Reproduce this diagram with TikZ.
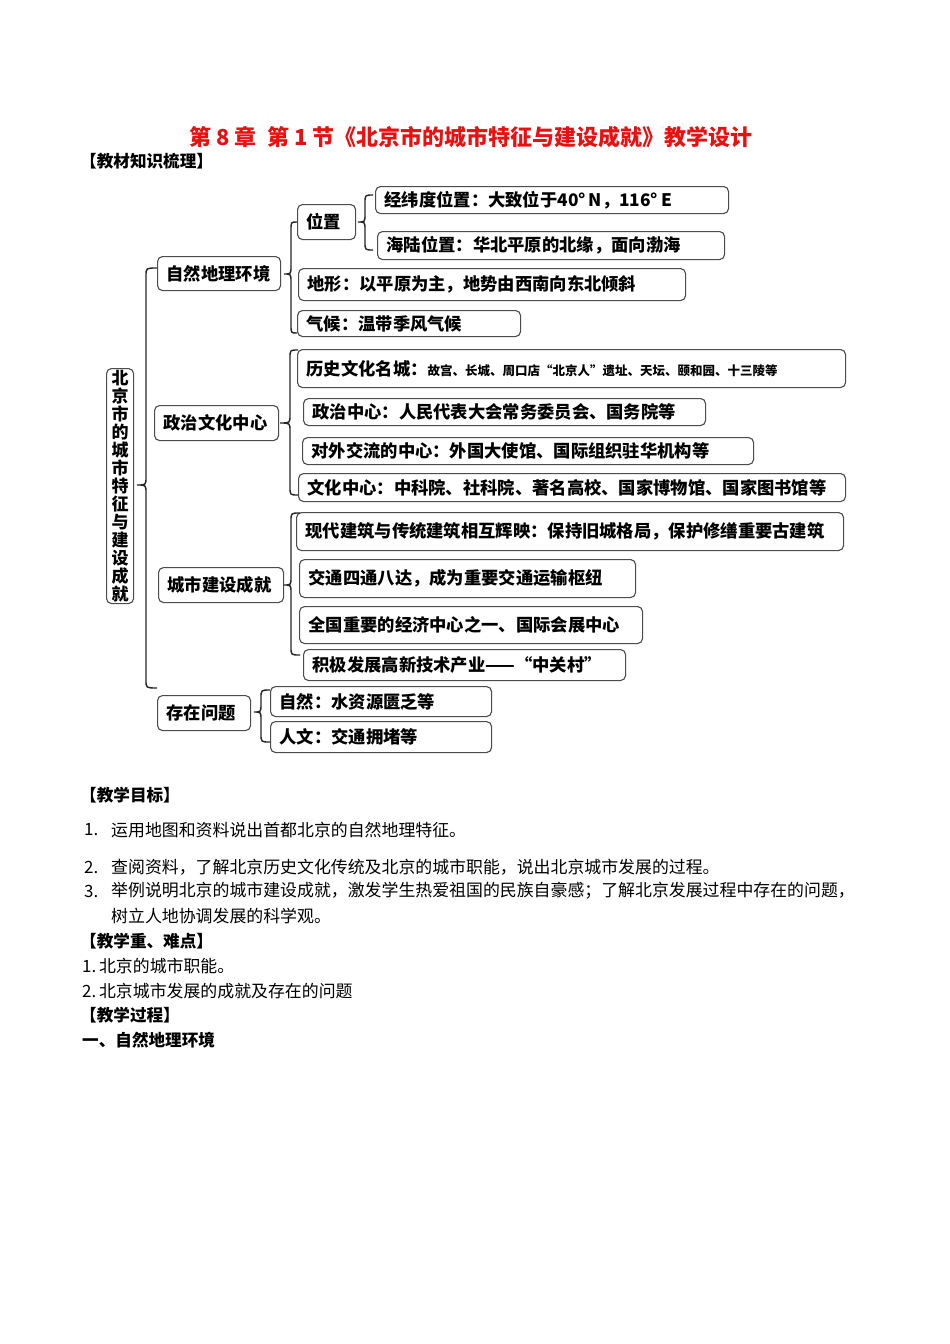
\documentclass[tikz,border=0pt]{standalone}
\usepackage{fontspec}
\setmainfont{Noto Sans CJK SC}
\definecolor{titlered}{RGB}{232,16,16}
\newcommand\curly[6]{\draw[brc] (#3,#4) .. controls (#2,#4) .. (#2,{#4+8}) -- (#2,{#5-8}) .. controls (#2,#5) .. (#1,#5) .. controls (#2,#5) .. (#2,{#5+8}) -- (#2,{#6-8}) .. controls (#2,#6) .. (#3,#6);}
\begin{document}
\begin{tikzpicture}[x=1pt,y=-1pt,
 box/.style={draw=black!70, line width=1.1pt, rounded corners=5pt, inner xsep=9pt, inner ysep=1pt, align=left, anchor=north west, font=\fontsize{17.3}{20}\selectfont\bfseries},
 brc/.style={draw=black!85, line width=1.4pt},
 body/.style={anchor=west, inner sep=0pt, font=\fontsize{16.9}{20}\selectfont},
 head/.style={anchor=west, inner sep=0pt, font=\fontsize{16.6}{20}\selectfont\bfseries}]
\useasboundingbox (0,0) rectangle (950,1344);
\fill[white] (0,0) rectangle (950,1344);
% title
\node[inner sep=0pt, text=titlered, font=\fontsize{22}{24}\selectfont\bfseries] (title) at (471,137) {第 8 章\ \ 第 1 节《北京市的城市特征与建设成就》教学设计};
\node[head] (h0) at (80,161) {【教材知识梳理】};
% root
\node[box, minimum height=235, text width=17pt, inner xsep=5pt, align=center, font=\fontsize{17}{18}\selectfont\bfseries] (root) at (106,368) {北\\京\\市\\的\\城\\市\\特\\征\\与\\建\\设\\成\\就};
% level 1
\node[box, minimum height=34, text width=105pt] (ziran) at (157,256) {自然地理环境};
\node[box, minimum height=35, text width=106pt] (zhengzhi) at (154,405) {政治文化中心};
\node[box, minimum height=35, text width=107pt] (chengshi) at (158,567) {城市建设成就};
\node[box, minimum height=35, text width=75pt] (wenti) at (157,695) {存在问题};
% level 2
\node[box, minimum height=35, text width=40pt] (weizhi) at (297,204) {位置};
\node[box, minimum height=27, text width=335pt] (jingwei) at (375,186) {经纬度位置：大致位于40°\,N，116°\,E};
\node[box, minimum height=28, text width=329pt] (hailu) at (377,231) {海陆位置：华北平原的北缘，面向渤海};
\node[box, minimum height=32, text width=369pt] (dixing) at (298,268) {地形：以平原为主，地势由西南向东北倾斜};
\node[box, minimum height=26, text width=205pt] (qihou) at (297,310) {气候：温带季风气候};
\node[box, minimum height=38, text width=530pt] (lishi) at (297,349) {历史文化名城：{\fontsize{12.5}{14}\selectfont 故宫、长城、周口店“北京人”遗址、天坛、颐和园、十三陵等}};
\node[box, minimum height=27, text width=384pt] (zzzx) at (303,398) {政治中心：人民代表大会常务委员会、国务院等};
\node[box, minimum height=27, text width=433pt] (dwjl) at (302,437) {对外交流的中心：外国大使馆、国际组织驻华机构等};
\node[box, minimum height=28, text width=529pt] (whzx) at (298,473) {文化中心：中科院、社科院、著名高校、国家博物馆、国家图书馆等};
\node[box, minimum height=38, text width=529pt] (xdjz) at (296,512) {现代建筑与传统建筑相互辉映：保持旧城格局，保护修缮重要古建筑};
\node[box, minimum height=38, text width=318pt] (jtsd) at (299,559) {交通四通八达，成为重要交通运输枢纽};
\node[box, minimum height=37, text width=325pt] (qgzy) at (299,606) {全国重要的经济中心之一、国际会展中心};
\node[box, minimum height=31, text width=304pt] (jjfz) at (303,649) {积极发展高新技术产业——“中关村”};
\node[box, minimum height=30, text width=203pt] (zr) at (270,686) {自然：水资源匮乏等};
\node[box, minimum height=31, text width=203pt] (rw) at (270,721) {人文：交通拥堵等};
% braces
\curly{137}{146}{157}{268}{485}{688}
\curly{284}{291}{297}{222}{274}{333}
\curly{358}{365}{373}{195}{222}{250}
\curly{280}{290}{298}{350}{423}{495}
\curly{284}{291}{300}{513}{585}{655}
\curly{254}{261}{270}{690}{712}{742}
% lower text
\node[head] (h1) at (80,795) {【教学目标】};
\node[body] (n1) at (84,830) {1.};
\node[body] (t1) at (111,830) {运用地图和资料说出首都北京的自然地理特征。};
\node[body] (n2) at (84,867) {2.};
\node[body] (t2) at (111,867) {查阅资料，了解北京历史文化传统及北京的城市职能，说出北京城市发展的过程。};
\node[body] (n3) at (84,891) {3.};
\node[body] (t3) at (111,891) {举例说明北京的城市建设成就，激发学生热爱祖国的民族自豪感；了解北京发展过程中存在的问题，};
\node[body] (t3b) at (111,916) {树立人地协调发展的科学观。};
\node[head] (h2) at (80,941) {【教学重、难点】};
\node[body] (k1) at (82,966) {1.\,北京的城市职能。};
\node[body] (k2) at (82,991) {2.\,北京城市发展的成就及存在的问题};
\node[head] (h3) at (80,1015) {【教学过程】};
\node[head] (h4) at (82,1040) {一、自然地理环境};
\end{tikzpicture}
\end{document}
